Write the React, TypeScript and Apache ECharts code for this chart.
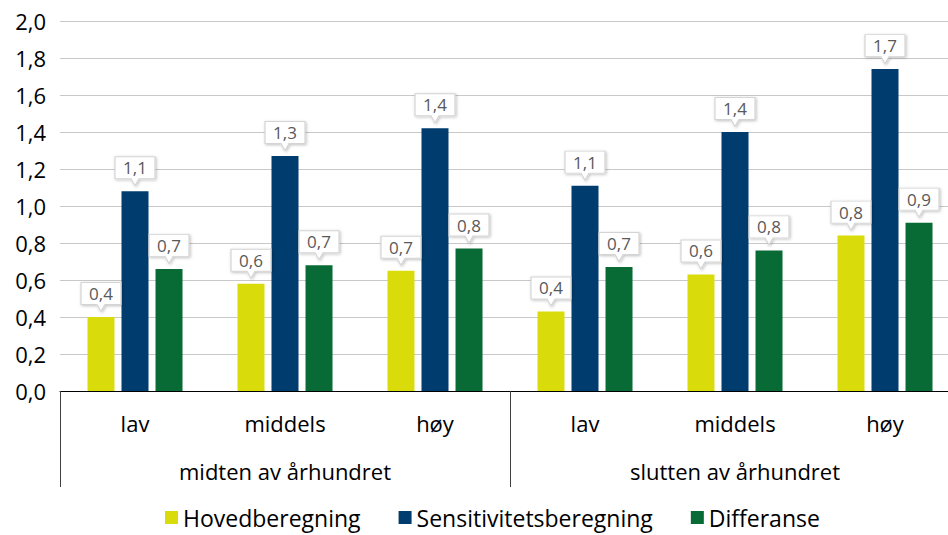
import React, { useEffect, useRef } from "react";
import * as echarts from "echarts";

const subCategories = ["lav", "middels", "høy", "lav", "middels", "høy"];
const mainCategories = ["midten av århundret", "slutten av århundret"];
const seriesNames = ["Hovedberegning", "Sensitivitetsberegning", "Differanse"];
const hoved = [0.4, 0.58, 0.65, 0.43, 0.63, 0.84];
const sensitivitet = [1.08, 1.27, 1.42, 1.11, 1.4, 1.74];
const differanse = [0.66, 0.68, 0.77, 0.67, 0.76, 0.91];
const colors = ["#DADB0B", "#003C6E", "#086A34"];

const fmt = (v: number) => Number(v).toFixed(1).replace(".", ",");
const FONT = "'Open Sans', sans-serif";

export default function App() {
  const ref = useRef<HTMLDivElement>(null);
  useEffect(() => {
    if (!ref.current) return;
    const chart = echarts.init(ref.current, undefined, { renderer: "svg" });
    const allData = [hoved, sensitivitet, differanse];
    const series = allData.map((d, si) => ({
      name: seriesNames[si],
      type: "bar",
      xAxisIndex: 0,
      data: d,
      barWidth: 27,
      barGap: "26%",
      itemStyle: { color: colors[si] },
      markPoint: {
        symbol: "path://M0 0H40V22H24L20 29L16 22H0Z",
        symbolSize: [40, 29],
        symbolOffset: [0, -20],
        itemStyle: {
          color: "#ffffff",
          borderColor: "#d4d4d4",
          borderWidth: 1,
          shadowBlur: 3,
          shadowColor: "rgba(0,0,0,0.25)",
          shadowOffsetX: 1,
          shadowOffsetY: 1,
        },
        label: {
          show: true,
          position: "inside",
          offset: [0, -3.5],
          color: "#595959",
          fontSize: 17,
          fontFamily: FONT,
          formatter: (p: any) => fmt(p.value),
        },
        data: d.map((v, i) => ({ coord: [i, v], value: v })),
      },
    }));
    chart.setOption({
      animation: false,
      color: colors,
      textStyle: { fontFamily: FONT },
      grid: { left: 60, top: 21, right: 0, bottom: 144, containLabel: false, outerBoundsMode: "none" },
      legend: {
        bottom: 1,
        left: 160,
        icon: "rect",
        itemWidth: 13,
        itemHeight: 13,
        itemGap: 38,
        textStyle: { fontSize: 23, color: "#000", fontFamily: FONT },
        data: seriesNames,
      },
      xAxis: [
        {
          type: "category",
          data: subCategories,
          position: "bottom",
          axisLine: { show: true, lineStyle: { color: "#000", width: 1 } },
          axisTick: { show: false },
          axisLabel: { interval: 0, margin: 21, fontSize: 22, color: "#000", fontFamily: FONT },
        },
        {
          type: "category",
          data: mainCategories,
          position: "bottom",
          gridIndex: 0,
          axisLine: { show: false },
          axisTick: { show: true, length: 96, interval: 0, lineStyle: { color: "#404040", width: 1 } },
          axisLabel: { interval: 0, margin: 69, fontSize: 22, color: "#000", fontFamily: FONT },
        },
      ],
      yAxis: {
        type: "value",
        min: 0,
        max: 2,
        interval: 0.2,
        axisLine: { show: false },
        axisTick: { show: false },
        splitLine: { lineStyle: { color: "#c8c8c8", width: 1 } },
        axisLabel: { margin: 14, fontSize: 22, color: "#000", fontFamily: FONT, formatter: (v: number) => fmt(v) },
      },
      series,
    });
    return () => chart.dispose();
  }, []);
  return (
    <div style={{ position: "fixed", left: 0, top: 0, width: 948, height: 535, overflow: "hidden", background: "#fff" }}>
      <div ref={ref} style={{ position: "absolute", left: 0, top: 0, width: 960, height: 535 }} />
    </div>
  );
}
